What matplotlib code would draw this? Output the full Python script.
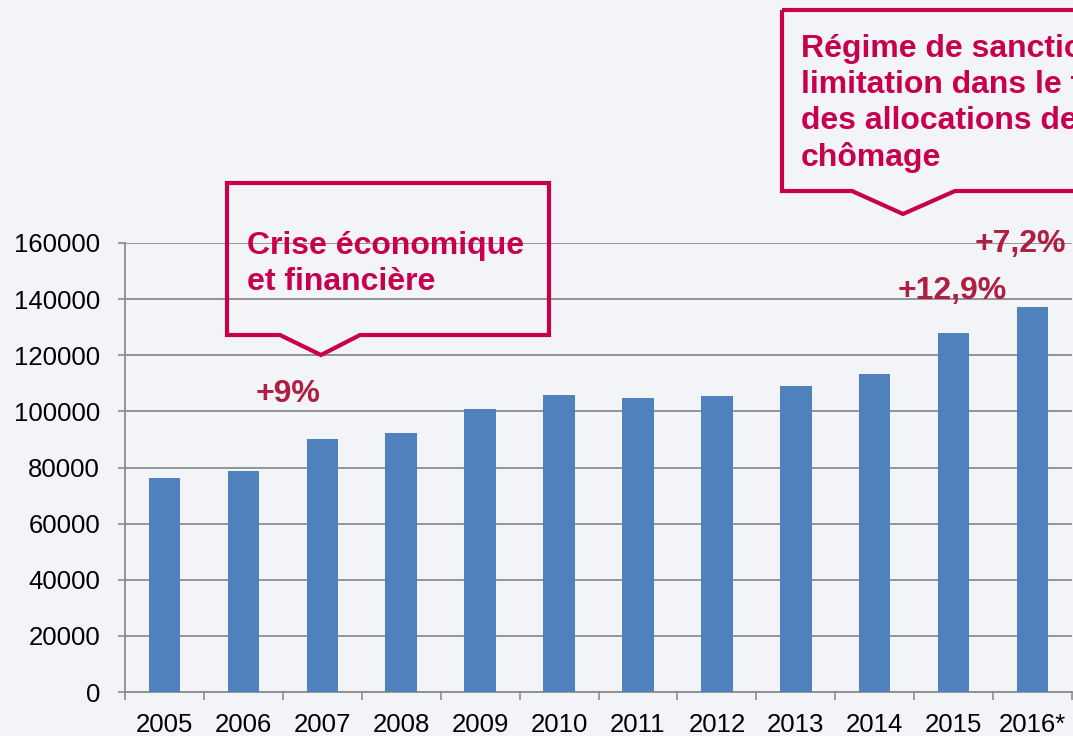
import matplotlib.pyplot as plt
from matplotlib.patches import Polygon
from matplotlib.ticker import FixedLocator

# données
annees = ['2005', '2006', '2007', '2008', '2009', '2010',
          '2011', '2012', '2013', '2014', '2015', '2016*']
valeurs = [76300, 78800, 90200, 92300, 100900, 105800,
           104800, 105500, 109100, 113300, 127900, 137200]

# hausses annotées : (position x, hauteur y, texte)
hausses_x = [1.56, 9.98, 10.84]
hausses_y = [106300, 143000, 159700]
hausses_txt = ['+9%', '+12,9%', '+7,2%']

BLEU = '#4F81BD'
ROUGE = '#C8004B'
ROUGE_FONCE = '#B01E42'
FOND = '#F2F4F8'

plt.rcParams['font.family'] = ['Liberation Sans', 'DejaVu Sans']

W, H = 1073, 736
fig = plt.figure(figsize=(W / 100, H / 100), dpi=100, facecolor=FOND)
ax = fig.add_axes([125 / W, 44 / H, 947 / W, 449 / H])
ax.set_facecolor(FOND)

x = list(range(len(annees)))
ax.bar(x, valeurs, width=0.40, color=BLEU, zorder=3)

ax.set_xlim(-0.5, len(annees) - 0.5)
ax.set_ylim(0, 160000)
ax.set_yticks(range(0, 160001, 20000))
ax.set_yticklabels([str(v) for v in range(0, 160001, 20000)])
ax.set_xticks(x)
ax.set_xticklabels(annees)
ax.xaxis.set_minor_locator(FixedLocator([i - 0.5 for i in range(len(annees) + 1)]))

ax.tick_params(axis='y', length=5, width=1.2, color='#8C8C8C', pad=13, labelsize=18.5)
ax.tick_params(axis='x', which='major', length=0, pad=15, labelsize=18.5)
ax.tick_params(axis='x', which='minor', length=6, width=1.2, color='#8C8C8C')

ax.grid(axis='y', color='#8C8C8C', linewidth=1.3, zorder=0)
for s in ['top', 'right']:
    ax.spines[s].set_visible(False)
for s in ['left', 'bottom']:
    ax.spines[s].set_color('#8C8C8C')
    ax.spines[s].set_linewidth(1.3)

for hx, hy, t in zip(hausses_x, hausses_y, hausses_txt):
    ax.text(hx, hy, t, ha='center', va='center', fontsize=23,
            fontweight='bold', color=ROUGE_FONCE, zorder=5, clip_on=False)


def bulle(x0, x1, y0, y1, p0, pt, p1, ytip):
    # coordonnées en pixels (origine en haut à gauche)
    pts = [(x0, y0), (x1, y0), (x1, y1), (p1, y1), (pt, ytip), (p0, y1), (x0, y1)]
    pts = [(px / W, 1 - py / H) for px, py in pts]
    fig.patches.append(Polygon(pts, closed=True, transform=fig.transFigure,
                               facecolor='none', edgecolor=ROUGE,
                               linewidth=3, joinstyle='miter', zorder=6))


# texte placé sur la ligne de base de sa dernière ligne
bulle(227, 549, 183, 335, 280, 321, 360, 355)
fig.text(247 / W, 1 - 290 / H, 'Crise économique\net financière',
         ha='left', va='baseline', fontsize=23, fontweight='bold', color=ROUGE,
         linespacing=1.26)

bulle(782, 1200, 10, 191, 852, 903, 955, 214)
fig.text(801 / W, 1 - 166 / H,
         'Régime de sanctions et\nlimitation dans le temps\ndes allocations de\nchômage',
         ha='left', va='baseline', fontsize=23, fontweight='bold', color=ROUGE,
         linespacing=1.26)

fig.savefig('out.png', dpi=100, facecolor=FOND)
